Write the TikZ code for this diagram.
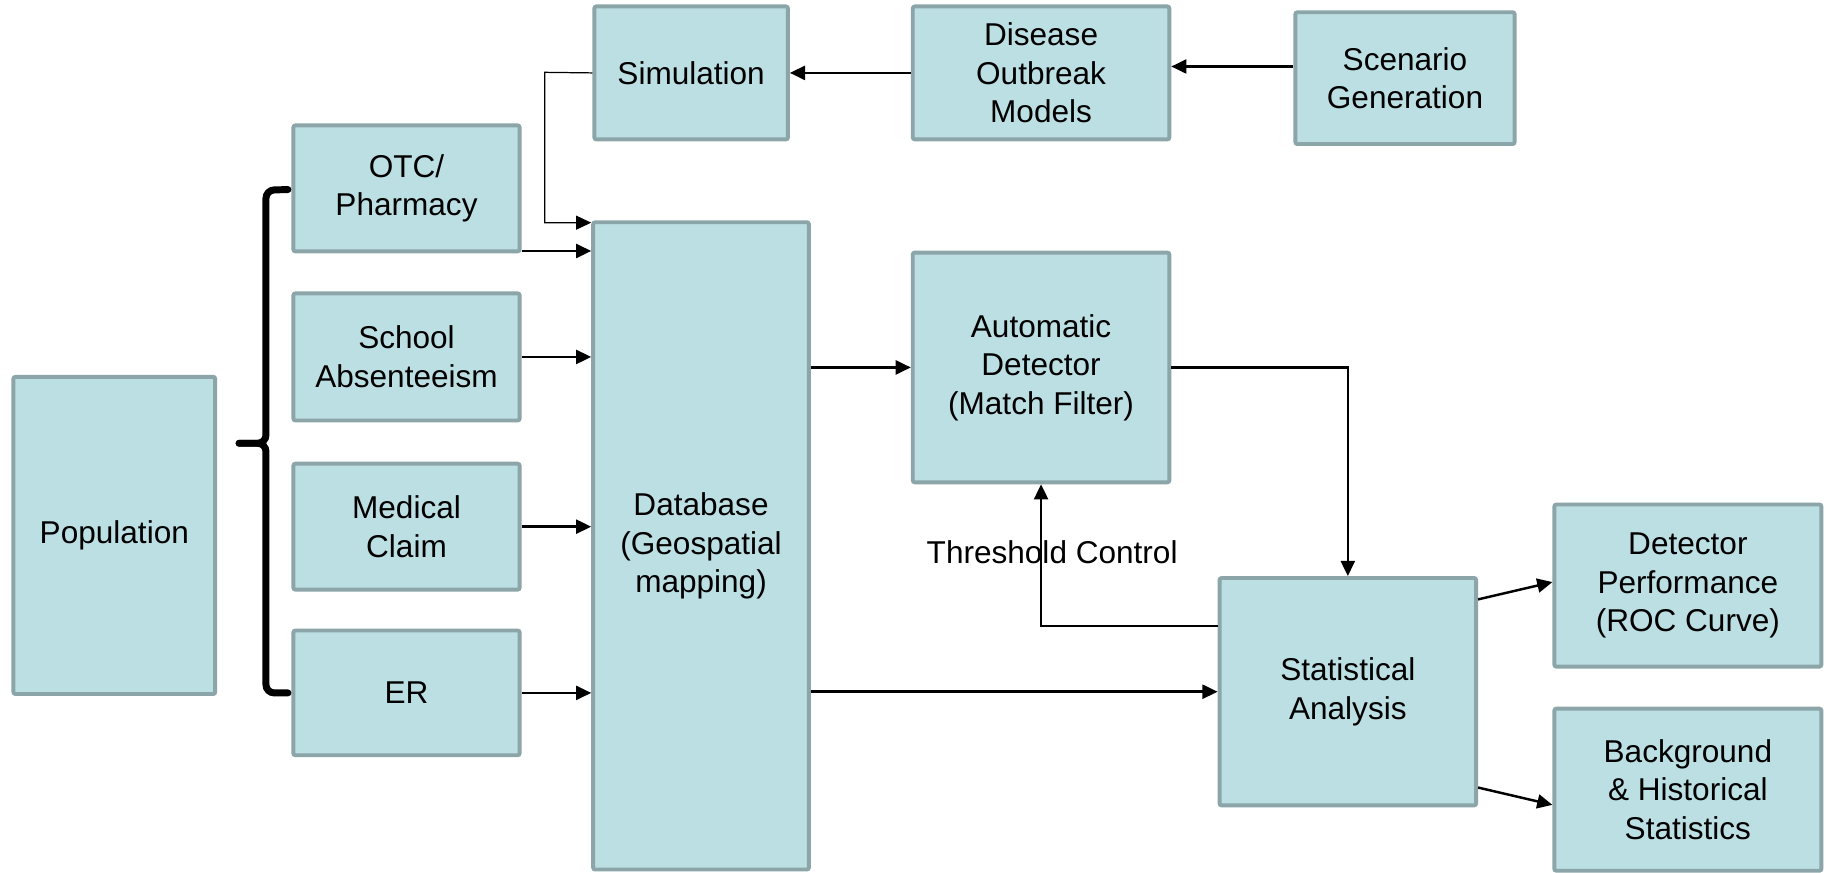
\documentclass[tikz,border=0pt]{standalone}
\usepackage{fontspec}
\setmainfont{Liberation Sans}
\usetikzlibrary{arrows.meta,positioning,calc}
\definecolor{BoxFill}{HTML}{BBDFE3}
\definecolor{BoxEdge}{HTML}{8BA5A8}
\newcommand{\boxfont}{\fontsize{15.4}{18.8}\selectfont}

\begin{document}
\begin{tikzpicture}[x=0.02cm,y=-0.02cm,
  block/.style={draw=BoxEdge,fill=BoxFill,line width=1.9pt,rounded corners=1pt,align=center,inner sep=2pt,font=\boxfont},
  arr/.style={-{Triangle[length=0.26cm,width=0.24cm]},line width=1.2pt},
  brace/.style={line width=3.4pt,rounded corners=4pt,line cap=round},
]
\useasboundingbox (0,0) rectangle (1568,748);
% sources
\node[block,minimum width=3.46cm,minimum height=5.44cm] (pop) at (98,459) {Population};
\node[block,minimum width=3.88cm,minimum height=2.16cm] (otc) at (348.5,161.5) {OTC/\\Pharmacy};
\node[block,minimum width=3.88cm,minimum height=2.18cm] (school) at (348.5,306) {School\\Absenteeism};
\node[block,minimum width=3.88cm,minimum height=2.16cm] (medical) at (348.5,451.5) {Medical\\Claim};
\node[block,minimum width=3.88cm,minimum height=2.14cm] (er) at (348.5,594) {ER};
\node[block,minimum width=3.70cm,minimum height=11.1cm] (db) at (601,468) {Database\\(Geospatial\\mapping)};
% simulation chain
\node[block,minimum width=3.32cm,minimum height=2.28cm] (sim) at (592.5,62.5) {Simulation};
\node[block,minimum width=4.40cm,minimum height=2.28cm] (dis) at (892.5,62.5) {Disease\\Outbreak\\Models};
\node[block,minimum width=3.76cm,minimum height=2.26cm] (scen) at (1204.5,67) {Scenario\\Generation};
% detection
\node[block,minimum width=4.40cm,minimum height=3.94cm] (auto) at (892.5,315) {Automatic\\Detector\\(Match Filter)};
\node[block,minimum width=4.40cm,minimum height=3.90cm] (stat) at (1155.5,593) {Statistical\\Analysis};
\node[block,minimum width=4.58cm,minimum height=2.78cm] (det) at (1447,502) {Detector\\Performance\\(ROC Curve)};
\node[block,minimum width=4.58cm,minimum height=2.78cm] (bg) at (1447,677) {Background\\\& Historical\\Statistics};
\node[font=\boxfont] (thr) at (902,473) {Threshold Control};

% brace
\draw[brace] ($(otc.west)+(-3,1)$) -- (228,163) -- (228,380) -- (205,380);
\draw[brace] (205,380) -- (228,380) -- (228,594) -- ($(er.west)+(-3,0)$);

% connectors
\draw[arr] ($(scen.west)+(0,-10)$) coordinate (s0) -- (s0 -| dis.east);
\draw[arr] (dis.west) -- (sim.east);
\coordinate (simbend) at (467,62);
\draw[arr,line width=0.6pt] (sim.west) -- (simbend) |- ($(db.north west)+(0,2)$);
\draw[arr] ($(otc.south east)+(0,-2)$) coordinate (o1) -- (o1 -| db.west);
\draw[arr] (school.east) -- (school.east -| db.west);
\draw[arr] (medical.east) -- (medical.east -| db.west);
\draw[arr] (er.east) -- (er.east -| db.west);
\draw[arr] (auto.west -| db.east) -- (auto.west);
\draw[arr] (stat.west -| db.east) -- (stat.west);
\draw[arr] (auto.east) -| (stat.north);
\draw[arr] ($(stat.north west)+(0,43)$) -| (auto.south);
\draw[arr] ($(stat.north east)+(0,20)$) -- ($(det.west)+(0,-3)$);
\draw[arr] ($(stat.south east)+(0,-17)$) -- ($(bg.west)+(0,13)$);
\end{tikzpicture}
\end{document}
